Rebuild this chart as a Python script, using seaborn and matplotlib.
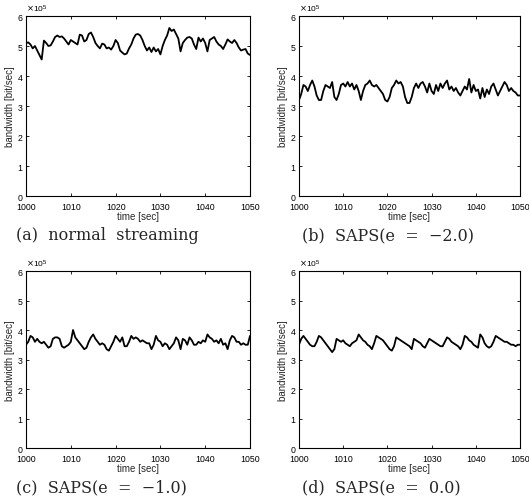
import numpy as np
import pandas as pd
import matplotlib
matplotlib.use("Agg")
import matplotlib.pyplot as plt
import seaborn as sns

# time axis (sec), 0.5 s sampling
time_sec = [1000 + 0.5 * i for i in range(101)]

# bandwidth in units of 1e5 bit/sec
normal_streaming = [
    5.10, 5.12, 5.05, 4.92, 5.00, 4.85, 4.70, 4.55, 5.18, 5.10,
    5.00, 5.02, 5.15, 5.30, 5.35, 5.30, 5.32, 5.25, 5.15, 5.05,
    5.20, 5.15, 5.10, 5.05, 5.38, 5.35, 5.15, 5.20, 5.40, 5.45,
    5.30, 5.10, 5.00, 4.92, 5.08, 5.05, 4.92, 4.95, 4.88, 5.00,
    5.20, 5.10, 4.85, 4.78, 4.72, 4.75, 4.92, 5.05, 5.25, 5.38,
    5.40, 5.35, 5.20, 5.00, 4.85, 4.95, 4.80, 4.95, 4.82, 4.90,
    4.72, 5.00, 5.20, 5.35, 5.60, 5.50, 5.55, 5.40, 5.25, 4.82,
    5.10, 5.20, 5.28, 5.30, 5.25, 5.05, 4.90, 5.28, 5.15, 5.25,
    5.10, 4.82, 5.20, 5.25, 5.30, 5.15, 5.05, 5.00, 4.90, 5.05,
    5.22, 5.15, 5.10, 5.20, 5.10, 4.95, 4.85, 4.88, 4.90, 4.75,
    4.70,
]
saps_m2 = [
    3.20, 3.40, 3.70, 3.65, 3.50, 3.70, 3.85, 3.65, 3.35, 3.20,
    3.20, 3.50, 3.70, 3.65, 3.60, 3.80, 3.30, 3.20, 3.40, 3.70,
    3.75, 3.65, 3.80, 3.65, 3.75, 3.55, 3.70, 3.50, 3.20, 3.50,
    3.70, 3.75, 3.85, 3.70, 3.65, 3.70, 3.60, 3.50, 3.40, 3.20,
    3.15, 3.30, 3.60, 3.70, 3.85, 3.75, 3.80, 3.65, 3.30, 3.10,
    3.10, 3.30, 3.60, 3.75, 3.60, 3.75, 3.80, 3.65, 3.45, 3.75,
    3.50, 3.40, 3.70, 3.50, 3.75, 3.60, 3.75, 3.85, 3.55, 3.65,
    3.50, 3.60, 3.45, 3.35, 3.50, 3.65, 3.55, 3.90, 3.45, 3.70,
    3.50, 3.55, 3.25, 3.60, 3.30, 3.55, 3.40, 3.65, 3.75, 3.55,
    3.35, 3.50, 3.65, 3.80, 3.70, 3.50, 3.60, 3.50, 3.45, 3.35,
    3.35,
]
saps_m1 = [
    3.50, 3.60, 3.80, 3.75, 3.60, 3.70, 3.60, 3.55, 3.60, 3.50,
    3.40, 3.45, 3.70, 3.75, 3.75, 3.70, 3.45, 3.40, 3.45, 3.50,
    3.60, 4.00, 3.75, 3.65, 3.55, 3.45, 3.35, 3.40, 3.60, 3.75,
    3.85, 3.70, 3.60, 3.50, 3.55, 3.50, 3.35, 3.30, 3.45, 3.60,
    3.80, 3.70, 3.60, 3.75, 3.45, 3.45, 3.60, 3.80, 3.70, 3.75,
    3.70, 3.60, 3.65, 3.60, 3.55, 3.55, 3.35, 3.50, 3.80, 3.65,
    3.60, 3.45, 3.55, 3.50, 3.35, 3.45, 3.55, 3.75, 3.65, 3.35,
    3.70, 3.65, 3.50, 3.75, 3.65, 3.50, 3.50, 3.60, 3.55, 3.65,
    3.60, 3.85, 3.75, 3.70, 3.60, 3.65, 3.55, 3.70, 3.50, 3.55,
    3.35, 3.65, 3.80, 3.75, 3.60, 3.60, 3.50, 3.55, 3.50, 3.50,
    3.80,
]
saps_0 = [
    3.50, 3.70, 3.80, 3.70, 3.60, 3.50, 3.45, 3.45, 3.60, 3.80,
    3.75, 3.65, 3.55, 3.45, 3.35, 3.25, 3.35, 3.70, 3.65, 3.60,
    3.65, 3.55, 3.50, 3.45, 3.55, 3.60, 3.65, 3.85, 3.75, 3.65,
    3.60, 3.50, 3.45, 3.35, 3.55, 3.80, 3.75, 3.70, 3.65, 3.55,
    3.45, 3.35, 3.30, 3.45, 3.75, 3.70, 3.65, 3.60, 3.55, 3.50,
    3.45, 3.35, 3.70, 3.65, 3.60, 3.55, 3.45, 3.40, 3.55, 3.70,
    3.65, 3.60, 3.55, 3.50, 3.45, 3.45, 3.60, 3.75, 3.70, 3.60,
    3.55, 3.50, 3.45, 3.35, 3.50, 3.80, 3.75, 3.65, 3.60, 3.50,
    3.45, 3.40, 3.85, 3.75, 3.55, 3.45, 3.40, 3.45, 3.60, 3.80,
    3.75, 3.70, 3.65, 3.60, 3.60, 3.55, 3.50, 3.50, 3.45, 3.50,
    3.50,
]

captions = ["(a)  normal  streaming", "(b)  SAPS(e  =  \u22122.0)",
            "(c)  SAPS(e  =  \u22121.0)", "(d)  SAPS(e  =  0.0)"]
series = [normal_streaming, saps_m2, saps_m1, saps_0]
x_ticks = [1000, 1010, 1020, 1030, 1040, 1050]
y_ticks = [0, 1, 2, 3, 4, 5, 6]

sns.set_theme(style="white")
plt.rcParams["font.family"] = ["Liberation Sans", "DejaVu Sans"]

W, H = 529, 502
fig = plt.figure(figsize=(W / 100, H / 100), dpi=100)

boxes = [(26, 17, 250, 197), (299, 17, 520, 197),
         (26, 272, 250, 449), (299, 272, 520, 449)]
cap_y = [236, 236, 488, 488]
cap_x = [16, 302, 16, 302]

for vals, cap, (l, t, r, b), cy, cx in zip(series, captions, boxes, cap_y, cap_x):
    ax = fig.add_axes([l / W, 1 - b / H, (r - l) / W, (b - t) / H])
    df = pd.DataFrame({"time": time_sec, "bw": np.array(vals) * 1e5})
    sns.lineplot(data=df, x="time", y="bw", ax=ax, color="black", linewidth=1.3)
    ax.set_xlim(1000, 1050)
    ax.set_ylim(0, 6e5)
    ax.set_xticks(x_ticks)
    ax.set_yticks([v * 1e5 for v in y_ticks])
    ax.ticklabel_format(axis="y", style="sci", scilimits=(0, 0), useMathText=True)
    ax.yaxis.get_offset_text().set_fontsize(6)
    ax.tick_params(direction="in", length=2.5, width=0.6, labelsize=6.3, pad=2,
                   top=True, right=True, bottom=True, left=True, colors="black")
    ax.tick_params(axis="x", pad=4)
    for s in ax.spines.values():
        s.set_linewidth(0.8)
        s.set_color("black")
    ax.set_xlabel("time [sec]", fontsize=7, labelpad=0)
    ax.set_ylabel("bandwidth [bit/sec]", fontsize=7, labelpad=1)
    fig.text(cx / W, 1 - cy / H, cap, fontsize=11.5,
             family=["DejaVu Serif"], ha="left", va="center")

fig.savefig("out.png", dpi=100)
